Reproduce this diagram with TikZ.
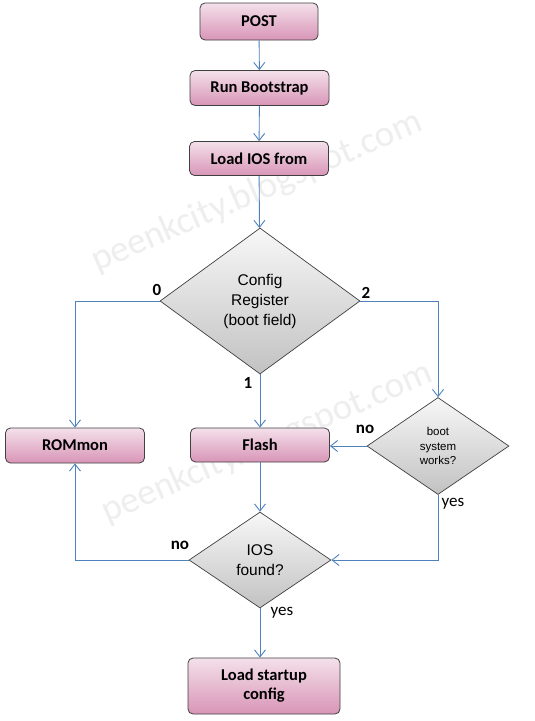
\documentclass[tikz,border=0pt]{standalone}
\usepackage{fontspec}
\setmainfont{Liberation Sans}
\newfontfamily\calfont{Carlito}
\usepackage{tikz}
\usetikzlibrary{arrows.meta, shapes.geometric, positioning}
\usepackage{xcolor}

\definecolor{boxtop}{HTML}{F4E0EA}
\definecolor{boxbot}{HTML}{D895B7}
\definecolor{flowblue}{HTML}{4F81BD}

\tikzset{
  procbox/.style={draw=black!75, line width=0.8pt, rounded corners=5pt,
    top color=boxtop, bottom color=boxbot, align=center, inner sep=0pt,
    font=\calfont\bfseries\fontsize{16.5}{19}\selectfont},
  decision/.style={diamond, draw=black!75, line width=0.7pt,
    top color=gray!6, bottom color=gray!48, align=center, inner sep=0pt,
    font=\fontsize{15.5}{20}\selectfont},
  flow/.style={draw=flowblue, line width=0.9pt,
    -{Straight Barb[length=7pt, width=11pt]}},
  lbl/.style={font=\calfont\bfseries\fontsize{17}{20}\selectfont, inner sep=0pt},
  watermark/.style={text=gray!13, rotate=23.5, inner sep=0pt,
    font=\calfont\fontsize{37}{40}\selectfont}
}

\begin{document}
\begin{tikzpicture}[x=1pt, y=-1pt]
% Page
\fill[white] (0,0) rectangle (535,721);
\useasboundingbox (0,0) rectangle (535,721);

% Watermarks
\node[watermark] (wmtop) at (257,192) {peenkcity.blogspot.com};
\node[watermark] (wmlow) at (267,443) {peenkcity.blogspot.com};

% Boxes
\node[procbox, minimum width=118, minimum height=37] (post) at (259,21.5) {POST};
\node[procbox, minimum width=139, minimum height=35] (runboot) at (259.5,88) {Run Bootstrap};
\node[procbox, minimum width=139, minimum height=34] (loadios) at (259,158.5) {Load IOS from};
\node[procbox, minimum width=139, minimum height=35] (rommon) at (75,445.5) {ROMmon};
\node[procbox, minimum width=139, minimum height=34] (flash) at (260,445) {Flash};
\node[procbox, minimum width=152, minimum height=56] (startup) at (264,686) {Load startup\\config};

% Decisions
\node[decision, minimum width=200, minimum height=146] (config) at (260,301)
  {Config\\Register\\(boot field)};
\node[decision, minimum width=142, minimum height=97,
  font=\fontsize{11.5}{14.5}\selectfont] (bootsys) at (438,446) {boot\\system\\works?};
\node[decision, minimum width=142, minimum height=96] (iosfound) at (260,560) {IOS\\found?};

% Connectors
\draw[flow] (post) -- (runboot);
\draw[flow] (runboot) -- (loadios);
\draw[flow] (loadios) -- (config);
\draw[flow] (config.west) -| (rommon.north);
\draw[flow] (config.east) -| (bootsys.north);
\draw[flow] (config.south) -- (flash);
\draw[flow] (bootsys.west) -- (bootsys.west -| flash.east);
\draw[flow] (bootsys.south) |- (iosfound.east);
\draw[flow] (flash) -- (iosfound);
\draw[flow] (iosfound.west) -| (rommon.south);
\draw[flow] (iosfound.south) -- (iosfound.south |- startup.north);

% Branch labels
\node[lbl] (lzero) at (157,290) {0};
\node[lbl] (ltwo) at (366,293) {2};
\node[lbl] (lone) at (248,383) {1};
\node[lbl] (lnoboot) at (365,429) {no};
\node[lbl, font=\calfont\fontsize{17}{20}\selectfont] (lyesboot) at (453,504) {yes};
\node[lbl] (lnoios) at (180,545) {no};
\node[lbl, font=\calfont\fontsize{17}{20}\selectfont] (lyesios) at (282,613) {yes};
\end{tikzpicture}
\end{document}
